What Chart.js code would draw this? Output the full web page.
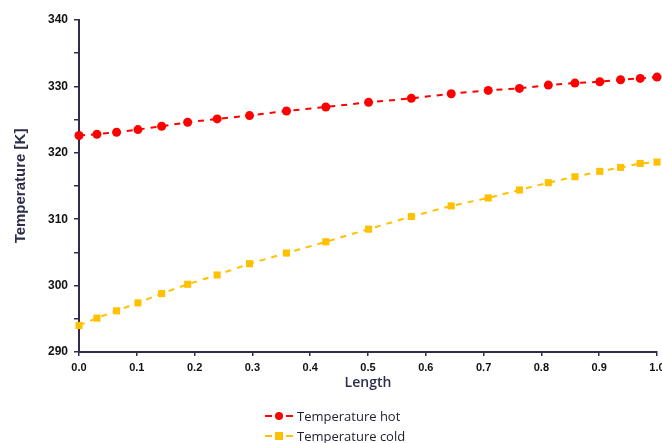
<!DOCTYPE html>
<html>
<head>
<meta charset="utf-8">
<script src="https://cdn.jsdelivr.net/npm/chart.js@4"></script>
<style>
    html, body { margin: 0; padding: 0; background: #fff; }
    #wrap { position: relative; width: 662px; height: 443px; }
    #legend { position: absolute; left: 265px; top: 406px; font: 13px "Open Sans", sans-serif; color: #1e1e2e; }
    .item { display: flex; align-items: center; height: 20px; }
    .sym { position: relative; width: 28px; height: 12px; margin-right: 4px; }
    .sym .ln { position: absolute; top: 5px; height: 2px; width: 7px; }
    .sym .mk { position: absolute; left: 10px; top: 2px; width: 8px; height: 8px; }
</style>
</head>
<body>
<div id="wrap">
    <canvas id="tempChart" width="662" height="443"></canvas>
    <div id="legend"></div>
</div>
<script>
const lengths = [0, 0.031, 0.065, 0.102, 0.143, 0.188, 0.239, 0.295, 0.359, 0.427, 0.501,
    0.575, 0.644, 0.708, 0.762, 0.812, 0.858, 0.901, 0.937, 0.971, 1.0];
const tempHot = [322.6, 322.8, 323.1, 323.5, 324.0, 324.6, 325.1, 325.6, 326.3, 326.9, 327.6,
    328.2, 328.9, 329.4, 329.7, 330.2, 330.5, 330.7, 331.0, 331.2, 331.4];
const tempCold = [294.0, 295.1, 296.2, 297.4, 298.8, 300.2, 301.6, 303.3, 304.9, 306.6, 308.5,
    310.4, 312.0, 313.2, 314.4, 315.5, 316.4, 317.2, 317.8, 318.4, 318.6];
const seriesNames = ['Temperature hot', 'Temperature cold'];
const yLabelTicks = [290, 300, 310, 320, 330, 340];

const axisColor = '#2e2e4a';

function toPoints(ys) {
    return lengths.map((x, i) => ({ x: x, y: ys[i] }));
}

const ctx = document.getElementById('tempChart').getContext('2d');
const chart = new Chart(ctx, {
    type: 'line',
    data: {
        datasets: [{
            label: seriesNames[0],
            data: toPoints(tempHot),
            borderColor: '#ff0000',
            backgroundColor: '#ff0000',
            borderWidth: 2,
            borderDash: [6, 6],
            pointStyle: 'circle',
            pointRadius: 4.5,
            pointBorderWidth: 0,
            clip: false
        },
        {
            label: seriesNames[1],
            data: toPoints(tempCold),
            borderColor: '#ffc000',
            backgroundColor: '#ffc000',
            borderWidth: 2,
            borderDash: [6, 6],
            pointStyle: 'rect',
            pointRadius: 5,
            pointBorderWidth: 0,
            clip: false
        }]
    },
    options: {
        responsive: false,
        animation: false,
        layout: { padding: { left: 0, top: 20, right: 4, bottom: 46 } },
        plugins: {
            legend: { display: false },
            tooltip: { enabled: false }
        },
        scales: {
            x: {
                type: 'linear',
                min: 0,
                max: 1,
                border: { color: axisColor, width: 2 },
                grid: { drawOnChartArea: false, color: axisColor, tickLength: 4, lineWidth: 1.5 },
                ticks: {
                    stepSize: 0.1,
                    padding: 5,
                    color: '#111',
                    font: { family: 'Liberation Sans', size: 11, weight: 'bold' },
                    callback: v => v.toFixed(1)
                },
                title: {
                    display: true,
                    text: 'Length',
                    color: '#2e2e4a',
                    font: { family: 'Open Sans', size: 14, weight: '600' },
                    padding: { top: 0, bottom: 6 }
                },
                afterFit: s => { s.height = 45; s.paddingRight = 0; s.paddingLeft = 0; }
            },
            y: {
                min: 290,
                max: 340,
                border: { color: axisColor, width: 2 },
                grid: { drawOnChartArea: false, color: axisColor, tickLength: 5, lineWidth: 1.5 },
                ticks: {
                    stepSize: 5,
                    padding: 6,
                    color: '#111',
                    font: { family: 'Liberation Sans', size: 12, weight: 'bold' },
                    callback: v => yLabelTicks.includes(v) ? v : ''
                },
                title: {
                    display: true,
                    text: 'Temperature [K]',
                    color: '#2e2e4a',
                    font: { family: 'Liberation Sans', size: 15, weight: 'bold' },
                    padding: { top: 12, bottom: 0 }
                },
                afterFit: s => { s.width = 79; }
            }
        }
    }
});

// legend stacked in two rows like the original
const legend = document.getElementById('legend');
chart.data.datasets.forEach(ds => {
    const round = ds.pointStyle === 'circle' ? 'border-radius:50%;' : '';
    legend.insertAdjacentHTML('beforeend',
        '<div class="item"><span class="sym">' +
        '<span class="ln" style="left:0;background:' + ds.borderColor + '"></span>' +
        '<span class="mk" style="' + round + 'background:' + ds.backgroundColor + '"></span>' +
        '<span class="ln" style="left:21px;background:' + ds.borderColor + '"></span>' +
        '</span>' + ds.label + '</div>');
});
</script>
</body>
</html>
